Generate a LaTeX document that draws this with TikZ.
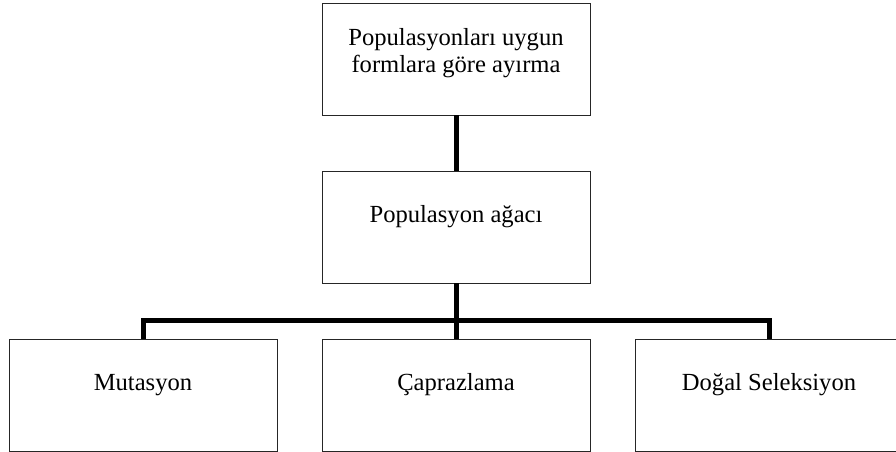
\documentclass[tikz,border=0pt]{standalone}
\usepackage{fontspec}
\setmainfont{Liberation Serif}

\tikzset{
  box/.style={draw=black!85, line width=0.9pt, minimum width=268pt, minimum height=112pt, inner sep=0pt},
  boxtext/.style={font=\fontsize{24.6}{27.7}\selectfont, align=center, inner sep=0pt, anchor=base}
}

\begin{document}
\begin{tikzpicture}[x=1pt, y=-1pt,
                    edge from parent/.style={draw, line width=5pt},
                    edge from parent path={(\tikzparentnode.south) -- ++(0,-37pt) -| (\tikzchildnode.north)},
                    level 1/.style={level distance=168pt},
                    level 2/.style={level distance=168pt, sibling distance=313pt}]
  \clip (0,0) rectangle (896,452);
  \node (root) [box] at (456,59) {}
    child { node (agac) [box] {}
      child { node (mut) [box] {} }
      child { node (capr) [box] {} }
      child { node (dogal) [box] {} }
    };
  % texts sit above the box centres
  \node (root-t) [boxtext] at ([yshift=-14pt]root.center) {Populasyonları uygun\\formlara göre ayırma};
  \node (agac-t) [boxtext] at ([yshift=5pt]agac.center) {Populasyon ağacı};
  \node (mut-t) [boxtext] at ([yshift=5pt]mut.center) {Mutasyon};
  \node (capr-t) [boxtext] at ([yshift=5pt]capr.center) {Çaprazlama};
  \node (dogal-t) [boxtext] at ([yshift=5pt]dogal.center) {Doğal Seleksiyon};
\end{tikzpicture}
\end{document}
